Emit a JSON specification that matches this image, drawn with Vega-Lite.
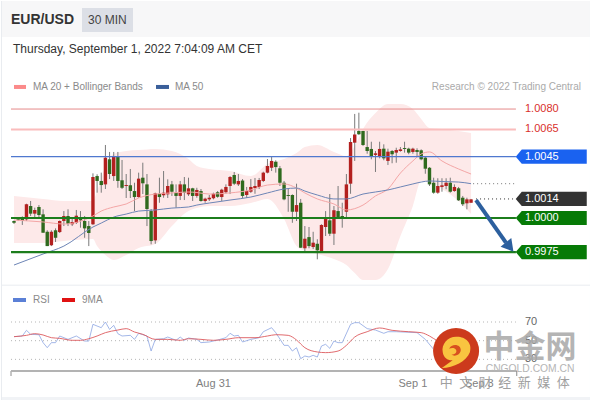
{"$schema":"https://vega.github.io/schema/vega-lite/v6.json","padding":0,"spacing":0,"bounds":"flush","background":"white","config":{"font":"Liberation Sans","view":{"stroke":null},"concat":{"spacing":0}},
"datasets":{
"levels":[{"price":1.008,"label":"1.0080"},{"price":1.0065,"label":"1.0065"},{"price":1.0045,"label":"1.0045"},{"price":1.0014,"label":"1.0014"},{"price":1.0,"label":"1.0000"},{"price":0.9975,"label":"0.9975"}],
"rsilevels":[{"rsi":70,"label":"70"},{"rsi":50,"label":"50"},{"rsi":30,"label":"30"}],
"bands":[{"t":0,"upper":1.00162,"lower":0.99816},{"t":7,"upper":1.0014,"lower":0.99816},{"t":12,"upper":1.00125,"lower":0.99831},{"t":19,"upper":1.00125,"lower":0.99846},{"t":20,"upper":1.00198,"lower":0.99794},{"t":21,"upper":1.00286,"lower":0.99758},{"t":22,"upper":1.00382,"lower":0.99728},{"t":24,"upper":1.0047,"lower":0.99692},{"t":27,"upper":1.00492,"lower":0.99728},{"t":30,"upper":1.00499,"lower":0.9978},{"t":34,"upper":1.00507,"lower":0.99809},{"t":38,"upper":1.00492,"lower":0.99941},{"t":42,"upper":1.00433,"lower":1.00051},{"t":44,"upper":1.00382,"lower":1.00073},{"t":47,"upper":1.0036,"lower":1.00088},{"t":52,"upper":1.00345,"lower":1.00088},{"t":57,"upper":1.00308,"lower":1.0011},{"t":61,"upper":1.00397,"lower":1.0014},{"t":65,"upper":1.00433,"lower":0.99993},{"t":68,"upper":1.00477,"lower":0.99794},{"t":70,"upper":1.00521,"lower":0.99758},{"t":73,"upper":1.00536,"lower":0.99736},{"t":77,"upper":1.00485,"lower":0.99699},{"t":80,"upper":1.00455,"lower":0.99655},{"t":82,"upper":1.00529,"lower":0.99596},{"t":84,"upper":1.00654,"lower":0.99545},{"t":87,"upper":1.00771,"lower":0.99545},{"t":90,"upper":1.00837,"lower":0.99626},{"t":93,"upper":1.00837,"lower":0.99868},{"t":96,"upper":1.008,"lower":1.00088},{"t":98,"upper":1.00727,"lower":1.00272},{"t":100,"upper":1.00661,"lower":1.00257},{"t":103,"upper":1.00654,"lower":1.00213},{"t":107,"upper":1.00639,"lower":1.00125},{"t":110,"upper":1.00624,"lower":1.00029}],
"mas":[{"t":0,"ma20":0.99985,"ma50":0.99655},{"t":7,"ma20":0.99971,"ma50":0.99736},{"t":12,"ma20":0.99956,"ma50":0.99794},{"t":19,"ma20":1.00015,"ma50":0.99934},{"t":21,"ma20":1.00051,"ma50":0.99963},{"t":24,"ma20":1.00081,"ma50":1.00007},{"t":27,"ma20":1.00103,"ma50":1.00029},{"t":30,"ma20":1.00147,"ma50":1.00051},{"t":34,"ma20":1.00176,"ma50":1.00059},{"t":38,"ma20":1.00184,"ma50":1.00073},{"t":42,"ma20":1.00191,"ma50":1.00081},{"t":44,"ma20":1.00187,"ma50":1.00095},{"t":47,"ma20":1.00176,"ma50":1.0011},{"t":52,"ma20":1.00184,"ma50":1.00132},{"t":57,"ma20":1.00206,"ma50":1.00154},{"t":61,"ma20":1.00242,"ma50":1.00184},{"t":65,"ma20":1.0025,"ma50":1.00213},{"t":68,"ma20":1.0022,"ma50":1.0022},{"t":70,"ma20":1.00184,"ma50":1.00198},{"t":73,"ma20":1.0014,"ma50":1.00169},{"t":77,"ma20":1.00103,"ma50":1.0014},{"t":80,"ma20":1.00059,"ma50":1.0014},{"t":84,"ma20":1.00095,"ma50":1.00176},{"t":87,"ma20":1.00162,"ma50":1.00191},{"t":90,"ma20":1.00213,"ma50":1.00206},{"t":93,"ma20":1.0033,"ma50":1.00228},{"t":96,"ma20":1.00419,"ma50":1.0025},{"t":98,"ma20":1.0047,"ma50":1.00264},{"t":100,"ma20":1.00485,"ma50":1.00272},{"t":103,"ma20":1.00419,"ma50":1.00268},{"t":107,"ma20":1.0036,"ma50":1.00264},{"t":110,"ma20":1.00323,"ma50":1.00252}],
"rsi":[{"t":0,"rsi":54.3},{"t":2,"rsi":55},{"t":3,"rsi":61.1},{"t":4,"rsi":56.8},{"t":6,"rsi":56.4},{"t":7,"rsi":47.9},{"t":8,"rsi":42.5},{"t":9,"rsi":47.9},{"t":10,"rsi":47.9},{"t":11,"rsi":55},{"t":13,"rsi":51.4},{"t":15,"rsi":55},{"t":17,"rsi":49.6},{"t":18,"rsi":49.6},{"t":19,"rsi":67.5},{"t":21,"rsi":63.9},{"t":22,"rsi":70},{"t":23,"rsi":62.1},{"t":24,"rsi":66.4},{"t":25,"rsi":57.5},{"t":26,"rsi":55},{"t":28,"rsi":55.7},{"t":29,"rsi":51.4},{"t":30,"rsi":57.9},{"t":32,"rsi":55},{"t":33,"rsi":38.9},{"t":34,"rsi":51.4},{"t":36,"rsi":52.1},{"t":37,"rsi":53.9},{"t":39,"rsi":50.4},{"t":40,"rsi":53.9},{"t":41,"rsi":50.4},{"t":42,"rsi":52.9},{"t":44,"rsi":51.4},{"t":45,"rsi":47.9},{"t":47,"rsi":48.6},{"t":49,"rsi":50.7},{"t":51,"rsi":53.2},{"t":52,"rsi":57.9},{"t":53,"rsi":55},{"t":54,"rsi":55.7},{"t":55,"rsi":48.6},{"t":57,"rsi":51.4},{"t":59,"rsi":53.2},{"t":60,"rsi":59.6},{"t":62,"rsi":63.9},{"t":63,"rsi":58.6},{"t":65,"rsi":45},{"t":66,"rsi":45},{"t":67,"rsi":38.9},{"t":68,"rsi":42.5},{"t":69,"rsi":30.7},{"t":70,"rsi":33.6},{"t":71,"rsi":32.5},{"t":72,"rsi":34.3},{"t":73,"rsi":32.5},{"t":74,"rsi":44.3},{"t":75,"rsi":46.1},{"t":76,"rsi":41.8},{"t":77,"rsi":49.6},{"t":78,"rsi":47.9},{"t":79,"rsi":47.9},{"t":81,"rsi":67.5},{"t":82,"rsi":69.3},{"t":83,"rsi":69.3},{"t":85,"rsi":62.9},{"t":87,"rsi":61.4},{"t":89,"rsi":57.9},{"t":90,"rsi":59.6},{"t":92,"rsi":59.6},{"t":97,"rsi":58.6},{"t":99,"rsi":51.4},{"t":101,"rsi":40.7},{"t":102,"rsi":37.9},{"t":105,"rsi":37.2},{"t":110,"rsi":35.4}],
"ma9":[{"t":0,"v":54.3},{"t":3,"v":55.7},{"t":5,"v":57.5},{"t":7,"v":56.1},{"t":9,"v":53.2},{"t":11,"v":52.5},{"t":14,"v":50.4},{"t":16,"v":50.4},{"t":18,"v":52.1},{"t":20,"v":55},{"t":22,"v":58.6},{"t":25,"v":61.4},{"t":27,"v":62.9},{"t":29,"v":59.3},{"t":31,"v":56.8},{"t":34,"v":51.4},{"t":37,"v":51.4},{"t":40,"v":50.4},{"t":42,"v":52.1},{"t":45,"v":51.4},{"t":48,"v":50.4},{"t":51,"v":51.4},{"t":54,"v":53.2},{"t":58,"v":53.2},{"t":61,"v":55},{"t":63,"v":56.4},{"t":66,"v":55.7},{"t":67,"v":53.9},{"t":68,"v":50.7},{"t":70,"v":42.5},{"t":73,"v":37.9},{"t":75,"v":37.2},{"t":78,"v":38.9},{"t":80,"v":45},{"t":82,"v":53.9},{"t":85,"v":59.6},{"t":88,"v":63.6},{"t":91,"v":61.1},{"t":95,"v":59.6},{"t":98,"v":58.6},{"t":100,"v":55},{"t":102,"v":49.6},{"t":110,"v":40.7}],
"candles":[
{"t":0,"o":0.99978,"c":0.99965,"h":0.99983,"l":0.99956},{"t":1,"o":1.00002,"c":0.99987,"h":1.00007,"l":0.99978},{"t":2,"o":1.00002,"c":0.99978,"h":1.00012,"l":0.99949},{"t":3,"o":0.9999,"c":1.00101,"h":1.00105,"l":0.99978},{"t":4,"o":1.00088,"c":1.00032,"h":1.00125,"l":1.00015},{"t":5,"o":1.00032,"c":1.00059,"h":1.00076,"l":0.99993},{"t":6,"o":1.00081,"c":1.00022,"h":1.00095,"l":0.99993},{"t":7,"o":1.00027,"c":0.99892,"h":1.00064,"l":0.99892},{"t":8,"o":0.99899,"c":0.99794,"h":0.9991,"l":0.99794},{"t":9,"o":0.998,"c":0.99899,"h":0.9991,"l":0.99794},
{"t":10,"o":0.9991,"c":0.99855,"h":0.99924,"l":0.99824},{"t":11,"o":0.99897,"c":0.99978,"h":0.99982,"l":0.9989},{"t":12,"o":0.99978,"c":1.00015,"h":1.00051,"l":0.99941},{"t":13,"o":1.00015,"c":0.99958,"h":1.00064,"l":0.99941},{"t":14,"o":0.99954,"c":0.99971,"h":1.00002,"l":0.99941},{"t":15,"o":0.99965,"c":1.00017,"h":1.00059,"l":0.99956},{"t":16,"o":1.00002,"c":0.99983,"h":1.00051,"l":0.99929},{"t":17,"o":0.99978,"c":0.99924,"h":1.00015,"l":0.99855},{"t":18,"o":0.99941,"c":0.9989,"h":0.99978,"l":0.99794},{"t":19,"o":0.99954,"c":1.00301,"h":1.00328,"l":0.99949},
{"t":20,"o":1.00308,"c":1.00272,"h":1.00321,"l":1.00186},{"t":21,"o":1.00272,"c":1.00242,"h":1.00333,"l":1.00186},{"t":22,"o":1.00247,"c":1.00443,"h":1.00536,"l":1.00213},{"t":23,"o":1.00431,"c":1.00323,"h":1.00485,"l":1.00286},{"t":24,"o":1.00308,"c":1.00455,"h":1.00485,"l":1.00272},{"t":25,"o":1.00455,"c":1.00272,"h":1.00485,"l":1.00222},{"t":26,"o":1.00277,"c":1.00222,"h":1.00426,"l":1.00213},{"t":27,"o":1.00235,"c":1.00242,"h":1.00323,"l":1.00147},{"t":28,"o":1.0024,"c":1.00198,"h":1.0036,"l":1.00147},{"t":29,"o":1.00198,"c":1.00154,"h":1.00259,"l":1.00051},
{"t":30,"o":1.00154,"c":1.00289,"h":1.00333,"l":1.00149},{"t":31,"o":1.00296,"c":1.00255,"h":1.00406,"l":1.00176},{"t":32,"o":1.00247,"c":1.00066,"h":1.00323,"l":0.99941},{"t":33,"o":1.00051,"c":0.99831,"h":1.00066,"l":0.99807},{"t":34,"o":0.99836,"c":1.00181,"h":1.00186,"l":0.99811},{"t":35,"o":1.00178,"c":1.00154,"h":1.00296,"l":1.00112},{"t":36,"o":1.00167,"c":1.00186,"h":1.00345,"l":1.00149},{"t":37,"o":1.00174,"c":1.00235,"h":1.00284,"l":1.00147},{"t":38,"o":1.00247,"c":1.00193,"h":1.00272,"l":1.00162},{"t":39,"o":1.00186,"c":1.00162,"h":1.00247,"l":1.00076},
{"t":40,"o":1.00162,"c":1.00247,"h":1.00272,"l":1.00132},{"t":41,"o":1.00247,"c":1.00186,"h":1.00301,"l":1.00132},{"t":42,"o":1.00174,"c":1.00218,"h":1.00296,"l":1.00162},{"t":43,"o":1.00218,"c":1.00162,"h":1.00222,"l":1.00125},{"t":44,"o":1.00162,"c":1.00206,"h":1.00222,"l":1.00149},{"t":45,"o":1.00198,"c":1.00125,"h":1.00213,"l":1.0012},{"t":46,"o":1.00125,"c":1.00142,"h":1.00149,"l":1.00112},{"t":47,"o":1.00137,"c":1.00149,"h":1.00169,"l":1.00125},{"t":48,"o":1.00145,"c":1.00178,"h":1.00186,"l":1.00137},{"t":49,"o":1.00189,"c":1.00156,"h":1.00198,"l":1.00149},
{"t":50,"o":1.00154,"c":1.00208,"h":1.00215,"l":1.00125},{"t":51,"o":1.00189,"c":1.00228,"h":1.00247,"l":1.00178},{"t":52,"o":1.00235,"c":1.00301,"h":1.00308,"l":1.00176},{"t":53,"o":1.00316,"c":1.00252,"h":1.00338,"l":1.00242},{"t":54,"o":1.00247,"c":1.00272,"h":1.00323,"l":1.00235},{"t":55,"o":1.00275,"c":1.00162,"h":1.00286,"l":1.00147},{"t":56,"o":1.00169,"c":1.00198,"h":1.00228,"l":1.00147},{"t":57,"o":1.00193,"c":1.00228,"h":1.00286,"l":1.00184},{"t":58,"o":1.0022,"c":1.00235,"h":1.00294,"l":1.00178},{"t":59,"o":1.00228,"c":1.00279,"h":1.00294,"l":1.00213},
{"t":60,"o":1.00272,"c":1.00333,"h":1.0034,"l":1.00264},{"t":61,"o":1.00333,"c":1.00382,"h":1.00433,"l":1.00328},{"t":62,"o":1.00369,"c":1.00419,"h":1.00448,"l":1.00345},{"t":63,"o":1.00413,"c":1.00374,"h":1.00424,"l":1.00333},{"t":64,"o":1.00365,"c":1.00259,"h":1.00382,"l":1.00235},{"t":65,"o":1.00259,"c":1.00137,"h":1.00272,"l":1.0013},{"t":66,"o":1.00169,"c":1.00162,"h":1.00215,"l":1.00046},{"t":67,"o":1.00169,"c":1.00046,"h":1.00174,"l":0.99965},{"t":68,"o":1.00046,"c":1.00095,"h":1.00252,"l":0.99978},{"t":69,"o":1.00112,"c":0.99782,"h":1.0014,"l":0.9978},
{"t":70,"o":0.99778,"c":0.99848,"h":0.99941,"l":0.99758},{"t":71,"o":0.9986,"c":0.99794,"h":0.99934,"l":0.99778},{"t":72,"o":0.99787,"c":0.99819,"h":0.99899,"l":0.99772},{"t":73,"o":0.99811,"c":0.99763,"h":0.99844,"l":0.99697},{"t":74,"o":0.99758,"c":0.99949,"h":0.99954,"l":0.99753},{"t":75,"o":0.99934,"c":0.99995,"h":1.00051,"l":0.99868},{"t":76,"o":0.99983,"c":0.99885,"h":1.00176,"l":0.99868},{"t":77,"o":0.99885,"c":1.00057,"h":1.00088,"l":0.99802},{"t":78,"o":1.00051,"c":1.00007,"h":1.00235,"l":1.0},{"t":79,"o":1.00015,"c":1.00002,"h":1.00112,"l":0.99929},
{"t":80,"o":1.00046,"c":1.00247,"h":1.00323,"l":1.00002},{"t":81,"o":1.00252,"c":1.00558,"h":1.00587,"l":1.00178},{"t":82,"o":1.00553,"c":1.00613,"h":1.00764,"l":1.00419},{"t":83,"o":1.00639,"c":1.00615,"h":1.00773,"l":1.00609},{"t":84,"o":1.00639,"c":1.00536,"h":1.00639,"l":1.00529},{"t":85,"o":1.00521,"c":1.00492,"h":1.00639,"l":1.00472},{"t":86,"o":1.00507,"c":1.00455,"h":1.0056,"l":1.00431},{"t":87,"o":1.00463,"c":1.00475,"h":1.00492,"l":1.00338},{"t":88,"o":1.00455,"c":1.00507,"h":1.0056,"l":1.00438},{"t":89,"o":1.00509,"c":1.00438,"h":1.00541,"l":1.00424},
{"t":90,"o":1.00419,"c":1.00487,"h":1.00509,"l":1.00389},{"t":91,"o":1.00492,"c":1.00468,"h":1.00499,"l":1.00402},{"t":92,"o":1.0048,"c":1.00499,"h":1.00516,"l":1.00406},{"t":93,"o":1.00492,"c":1.00504,"h":1.00521,"l":1.00487},{"t":94,"o":1.00514,"c":1.00507,"h":1.0056,"l":1.0048},{"t":95,"o":1.00509,"c":1.0048,"h":1.00516,"l":1.00468},{"t":96,"o":1.00485,"c":1.00509,"h":1.00516,"l":1.00472},{"t":97,"o":1.00499,"c":1.00485,"h":1.00512,"l":1.00455},{"t":98,"o":1.00497,"c":1.00431,"h":1.00504,"l":1.00424},{"t":99,"o":1.00443,"c":1.00362,"h":1.00455,"l":1.00325},
{"t":100,"o":1.00369,"c":1.00247,"h":1.00374,"l":1.00235},{"t":101,"o":1.00259,"c":1.00186,"h":1.00296,"l":1.00178},{"t":102,"o":1.00186,"c":1.00235,"h":1.00292,"l":1.00178},{"t":103,"o":1.00228,"c":1.0024,"h":1.00292,"l":1.00193},{"t":104,"o":1.00235,"c":1.00259,"h":1.00292,"l":1.00211},{"t":105,"o":1.00259,"c":1.00193,"h":1.00296,"l":1.00186},{"t":106,"o":1.00198,"c":1.00228,"h":1.00247,"l":1.00193},{"t":107,"o":1.00218,"c":1.0013,"h":1.00228,"l":1.00125},{"t":108,"o":1.00149,"c":1.00101,"h":1.00162,"l":1.00088},{"t":109,"o":1.00108,"c":1.00137,"h":1.00149,"l":1.00064},{"t":110,"o":1.00112,"c":1.00137,"h":1.0014,"l":1.00112}]
},
"vconcat":[
{"width":590,"height":285,"layer":[
{"data":{"values":[{"a":1}]},"mark":{"type":"rect","color":"#f7f7f8"},"encoding":{"x":{"datum":-3.13,"type":"quantitative","axis":null,"scale":{"domain":[-3.13,138.87],"nice":false,"zero":false,"padding":0}},"x2":{"datum":138.87},"y":{"datum":1.01593,"type":"quantitative","axis":null,"scale":{"domain":[0.99501,1.01593],"nice":false,"zero":false}},"y2":{"datum":1.01329}}},
{"data":{"values":[{"a":1}]},"mark":{"type":"rect","color":"#dcdfe6"},"encoding":{"x":{"datum":16.37,"type":"quantitative"},"x2":{"datum":28.64},"y":{"datum":1.01542,"type":"quantitative"},"y2":{"datum":1.01366}}},
{"data":{"values":[{"label":"EUR/USD"}]},"mark":{"type":"text","align":"left","baseline":"middle","fontSize":14,"fontWeight":"bold","color":"#333"},"encoding":{"text":{"field":"label"},"x":{"datum":-0.72,"type":"quantitative"},"y":{"datum":1.01454,"type":"quantitative"}}},
{"data":{"values":[{"label":"30 MIN"}]},"mark":{"type":"text","align":"left","baseline":"middle","fontSize":12,"color":"#444"},"encoding":{"text":{"field":"label"},"x":{"datum":17.81,"type":"quantitative"},"y":{"datum":1.01454,"type":"quantitative"}}},
{"data":{"values":[{"label":"Thursday, September 1, 2022 7:04:09 AM CET"}]},"mark":{"type":"text","align":"left","baseline":"middle","fontSize":12,"color":"#333"},"encoding":{"text":{"field":"label"},"x":{"datum":-0.24,"type":"quantitative"},"y":{"datum":1.01241,"type":"quantitative"}}},
{"data":{"values":[{"a":1}]},"mark":{"type":"rule","color":"#fb8a8a","strokeWidth":4},"encoding":{"x":{"datum":0,"type":"quantitative"},"x2":{"datum":2.89},"y":{"datum":1.00962,"type":"quantitative"}}},
{"data":{"values":[{"a":1}]},"mark":{"type":"rule","color":"#3a5f9a","strokeWidth":4},"encoding":{"x":{"datum":34.18,"type":"quantitative"},"x2":{"datum":37.3},"y":{"datum":1.00962,"type":"quantitative"}}},
{"data":{"values":[{"label":"MA 20 + Bollinger Bands"}]},"mark":{"type":"text","align":"left","baseline":"middle","fontSize":10,"color":"#8a8a8a"},"encoding":{"text":{"field":"label"},"x":{"datum":4.57,"type":"quantitative"},"y":{"datum":1.00962,"type":"quantitative"}}},
{"data":{"values":[{"label":"MA 50"}]},"mark":{"type":"text","align":"left","baseline":"middle","fontSize":10,"color":"#8a8a8a"},"encoding":{"text":{"field":"label"},"x":{"datum":38.75,"type":"quantitative"},"y":{"datum":1.00962,"type":"quantitative"}}},
{"data":{"values":[{"label":"Research © 2022 Trading Central"}]},"mark":{"type":"text","align":"right","baseline":"middle","fontSize":10,"color":"#aaaaaa"},"encoding":{"text":{"field":"label"},"x":{"datum":136.46,"type":"quantitative"},"y":{"datum":1.00962,"type":"quantitative"}}},
{"data":{"name":"bands"},"mark":{"type":"area","color":"#fde9e9","interpolate":"monotone"},"encoding":{"x":{"field":"t","type":"quantitative"},"y":{"field":"upper","type":"quantitative"},"y2":{"field":"lower"}}},
{"data":{"name":"candles"},"mark":{"type":"rule","color":"#7a7a7a","strokeWidth":1},"encoding":{"x":{"field":"t","type":"quantitative"},"y":{"field":"h","type":"quantitative"},"y2":{"field":"l"}}},
{"data":{"name":"candles"},"mark":{"type":"bar","width":3.4},"encoding":{"x":{"field":"t","type":"quantitative"},"y":{"field":"o","type":"quantitative"},"y2":{"field":"c"},"color":{"condition":{"test":"datum.c>datum.o","value":"#b3201f"},"value":"#2f6a1e"}}},
{"data":{"name":"mas"},"mark":{"type":"line","color":"#f4a6a6","strokeWidth":1,"interpolate":"monotone"},"encoding":{"x":{"field":"t","type":"quantitative"},"y":{"field":"ma20","type":"quantitative"}}},
{"data":{"name":"mas"},"mark":{"type":"line","color":"#6d85b6","strokeWidth":1,"interpolate":"monotone"},"encoding":{"x":{"field":"t","type":"quantitative"},"y":{"field":"ma50","type":"quantitative"}}},
{"data":{"name":"levels"},"transform":[{"filter":"datum.price==1.008"}],"mark":{"type":"rule","color":"#e58a8a","strokeWidth":1},"encoding":{"x":{"datum":-0.72,"type":"quantitative"},"x2":{"datum":120.8},"y":{"field":"price","type":"quantitative"}}},
{"data":{"name":"levels"},"transform":[{"filter":"datum.price==1.0065"}],"mark":{"type":"rule","color":"#fabcbc","strokeWidth":2},"encoding":{"x":{"datum":-0.72,"type":"quantitative"},"x2":{"datum":120.8},"y":{"field":"price","type":"quantitative"}}},
{"data":{"name":"levels"},"transform":[{"filter":"datum.price==1.0045"}],"mark":{"type":"rule","color":"#4f78cf","strokeWidth":1.3},"encoding":{"x":{"datum":-0.72,"type":"quantitative"},"x2":{"datum":120.8},"y":{"field":"price","type":"quantitative"}}},
{"data":{"name":"levels"},"transform":[{"filter":"datum.price==1.0||datum.price==0.9975"}],"mark":{"type":"rule","color":"#1c7d1c","strokeWidth":2.2},"encoding":{"x":{"datum":-0.72,"type":"quantitative"},"x2":{"datum":120.8},"y":{"field":"price","type":"quantitative"}}},
{"data":{"name":"levels"},"transform":[{"filter":"datum.price==1.0014"}],"mark":{"type":"rule","color":"#333333","strokeWidth":1,"strokeDash":[1,3]},"encoding":{"x":{"datum":111.2,"type":"quantitative"},"x2":{"datum":120.8},"y":{"field":"price","type":"quantitative"}}},
{"data":{"values":[{"a":1}]},"mark":{"type":"rule","color":"#777777","strokeWidth":1,"strokeDash":[1,3]},"encoding":{"x":{"datum":110.5,"type":"quantitative"},"x2":{"datum":120.8},"y":{"datum":1.00252,"type":"quantitative"}}},
{"data":{"values":[{"a":1}]},"mark":{"type":"rule","color":"#2c5f9e","strokeWidth":4},"encoding":{"x":{"datum":111.2,"type":"quantitative"},"x2":{"datum":118.4},"y":{"datum":1.00132,"type":"quantitative"},"y2":{"datum":0.9982}}},
{"data":{"values":[{"a":1}]},"mark":{"type":"point","shape":"triangle-up","filled":true,"opacity":1,"color":"#2c5f9e","size":190,"angle":141},"encoding":{"x":{"datum":119.3,"type":"quantitative"},"y":{"datum":0.99787,"type":"quantitative"}}},
{"data":{"name":"levels"},"transform":[{"filter":"datum.price<1.006"}],"mark":{"type":"point","shape":"M-1,0 L-0.83,-0.2 L1,-0.2 L1,0.2 L-0.83,0.2 Z","filled":true,"opacity":1,"size":5041},"encoding":{"x":{"datum":129.3,"type":"quantitative"},"y":{"field":"price","type":"quantitative"},"color":{"field":"label","type":"nominal","legend":null,"scale":{"domain":["1.0045","1.0014","1.0000","0.9975"],"range":["#1a62f0","#333333","#067a06","#067a06"]}}}},
{"data":{"name":"levels"},"transform":[{"filter":"datum.price>1.006"}],"mark":{"type":"text","align":"left","baseline":"middle","fontSize":11,"color":"#d9302c"},"encoding":{"text":{"field":"label"},"x":{"datum":122.98,"type":"quantitative"},"y":{"field":"price","type":"quantitative"}}},
{"data":{"name":"levels"},"transform":[{"filter":"datum.price<1.006"}],"mark":{"type":"text","align":"left","baseline":"middle","fontSize":11,"color":"white"},"encoding":{"text":{"field":"label"},"x":{"datum":122.98,"type":"quantitative"},"y":{"field":"price","type":"quantitative"}}},
{"data":{"values":[{"a":1}]},"mark":{"type":"rule","color":"#e9ecf0","strokeWidth":1},"encoding":{"x":{"datum":-3.13,"type":"quantitative"},"x2":{"datum":138.87},"y":{"datum":0.99507,"type":"quantitative"}}},
{"data":{"values":[{"a":1}]},"mark":{"type":"rule","color":"#e9ecf0","strokeWidth":1},"encoding":{"x":{"datum":-3.01,"type":"quantitative"},"y":{"datum":1.01593,"type":"quantitative"},"y2":{"datum":0.99501}}},
{"data":{"values":[{"a":1}]},"mark":{"type":"rule","color":"#e9ecf0","strokeWidth":1},"encoding":{"x":{"datum":138.74,"type":"quantitative"},"y":{"datum":1.01593,"type":"quantitative"},"y2":{"datum":0.99501}}}
]},
{"width":590,"height":115,"layer":[
{"data":{"values":[{"a":1}]},"mark":{"type":"rect","color":"#f1f3f6"},"encoding":{"x":{"datum":-3.13,"type":"quantitative","axis":null,"scale":{"domain":[-3.13,138.87],"nice":false,"zero":false}},"x2":{"datum":138.87},"y":{"datum":-10.3,"type":"quantitative","axis":null,"scale":{"domain":[-14.6,108.56],"nice":false,"zero":false}},"y2":{"datum":-14.6}}},
{"data":{"values":[{"a":1}]},"mark":{"type":"rule","color":"#e9ecf0","strokeWidth":1},"encoding":{"x":{"datum":-3.01,"type":"quantitative"},"y":{"datum":108.56,"type":"quantitative"},"y2":{"datum":-14.6}}},
{"data":{"values":[{"a":1}]},"mark":{"type":"rule","color":"#e9ecf0","strokeWidth":1},"encoding":{"x":{"datum":138.74,"type":"quantitative"},"y":{"datum":108.56,"type":"quantitative"},"y2":{"datum":-14.6}}},
{"data":{"values":[{"a":1}]},"mark":{"type":"rule","color":"#5b80d6","strokeWidth":4},"encoding":{"x":{"datum":-0.24,"type":"quantitative"},"x2":{"datum":2.89},"y":{"datum":93.56,"type":"quantitative"}}},
{"data":{"values":[{"a":1}]},"mark":{"type":"rule","color":"#e01212","strokeWidth":4},"encoding":{"x":{"datum":11.55,"type":"quantitative"},"x2":{"datum":14.68},"y":{"datum":93.56,"type":"quantitative"}}},
{"data":{"values":[{"label":"RSI"}]},"mark":{"type":"text","align":"left","baseline":"middle","fontSize":10,"color":"#8a8a8a"},"encoding":{"text":{"field":"label"},"x":{"datum":4.57,"type":"quantitative"},"y":{"datum":93.56,"type":"quantitative"}}},
{"data":{"values":[{"label":"9MA"}]},"mark":{"type":"text","align":"left","baseline":"middle","fontSize":10,"color":"#8a8a8a"},"encoding":{"text":{"field":"label"},"x":{"datum":16.37,"type":"quantitative"},"y":{"datum":93.56,"type":"quantitative"}}},
{"data":{"name":"rsilevels"},"mark":{"type":"rule","color":"#b5b5b5","strokeWidth":1,"strokeDash":[1,3]},"encoding":{"x":{"datum":-0.72,"type":"quantitative"},"x2":{"datum":120.8},"y":{"field":"rsi","type":"quantitative"}}},
{"data":{"name":"rsilevels"},"mark":{"type":"text","align":"left","baseline":"middle","fontSize":11,"color":"#666666"},"encoding":{"text":{"field":"label"},"x":{"datum":122.98,"type":"quantitative"},"y":{"field":"rsi","type":"quantitative"}}},
{"data":{"name":"rsi"},"mark":{"type":"line","color":"#8ba4e2","strokeWidth":0.8},"encoding":{"x":{"field":"t","type":"quantitative"},"y":{"field":"rsi","type":"quantitative"}}},
{"data":{"name":"ma9"},"mark":{"type":"line","color":"#dd5a5e","strokeWidth":0.9,"interpolate":"monotone"},"encoding":{"x":{"field":"t","type":"quantitative"},"y":{"field":"v","type":"quantitative"}}},
{"data":{"values":[{"a":1}]},"mark":{"type":"rule","color":"#b3b3b3","strokeWidth":2},"encoding":{"x":{"datum":-0.72,"type":"quantitative"},"x2":{"datum":121},"y":{"datum":17.5,"type":"quantitative"}}},
{"data":{"values":[{"a":1}]},"mark":{"type":"rule","color":"#b3b3b3","strokeWidth":1.5},"encoding":{"x":{"datum":-0.72,"type":"quantitative"},"y":{"datum":17.5,"type":"quantitative"},"y2":{"datum":12.2}}},
{"data":{"values":[{"a":1}]},"mark":{"type":"rule","color":"#888888","strokeWidth":1},"encoding":{"x":{"datum":121,"type":"quantitative"},"y":{"datum":17.5,"type":"quantitative"},"y2":{"datum":12.2}}},
{"data":{"values":[{"t":48,"label":"Aug 31"},{"t":96,"label":"Sep 1"},{"t":112,"label":"Sep 3"}]},"mark":{"type":"text","align":"center","baseline":"middle","fontSize":11,"color":"#808080"},"encoding":{"text":{"field":"label"},"x":{"field":"t","type":"quantitative"},"y":{"datum":3.6,"type":"quantitative"}}},
{"data":{"values":[{"a":1}]},"mark":{"type":"circle","color":"#cc3a1c","opacity":1,"size":2116},"encoding":{"x":{"datum":106.4,"type":"quantitative"},"y":{"datum":38.9,"type":"quantitative"}}},
{"data":{"values":[{"a":1}]},"mark":{"type":"point","shape":"M-0.62,0.74 C-0.1,0.72 0.45,0.45 0.6,0.05 C0.72,-0.35 0.4,-0.62 0.05,-0.62 C-0.35,-0.65 -0.65,-0.3 -0.58,0.05 C-0.54,0.3 -0.35,0.42 -0.15,0.4 Z","filled":true,"opacity":1,"color":"#f9c440","size":2116},"encoding":{"x":{"datum":106.4,"type":"quantitative"},"y":{"datum":38.9,"type":"quantitative"}}},
{"data":{"values":[{"a":1}]},"mark":{"type":"point","shape":"M-0.3,-0.1 C-0.2,-0.35 0.25,-0.3 0.2,0 C0.15,0.2 -0.1,0.25 -0.2,0.15 C-0.05,0.15 0.05,0.05 0,-0.05 C-0.05,-0.15 -0.2,-0.15 -0.3,-0.1 Z","filled":true,"opacity":1,"color":"#d8501f","size":2116},"encoding":{"x":{"datum":106.4,"type":"quantitative"},"y":{"datum":38.9,"type":"quantitative"}}},
{"data":{"values":[{"label":"中金网"}]},"mark":{"type":"text","align":"center","baseline":"middle","font":"Noto Sans CJK SC","fontSize":31,"fontWeight":"bold","color":"#a8a8a8","opacity":0.85},"encoding":{"text":{"field":"label"},"x":{"datum":124.2,"type":"quantitative"},"y":{"datum":42.2,"type":"quantitative"}}},
{"data":{"values":[{"label":"CNGOLD.COM.CN"}]},"mark":{"type":"text","align":"center","baseline":"middle","fontSize":10.3,"color":"#b5b5b5"},"encoding":{"text":{"field":"label"},"x":{"datum":124.2,"type":"quantitative"},"y":{"datum":19.7,"type":"quantitative"}}},
{"data":{"values":[{"label":"中\u2002文\u2002财\u2002经\u2002新\u2002媒\u2002体"}]},"mark":{"type":"text","align":"center","baseline":"middle","font":"Noto Sans CJK SC","fontSize":13,"color":"#a0a0a0"},"encoding":{"text":{"field":"label"},"x":{"datum":118.1,"type":"quantitative"},"y":{"datum":4.7,"type":"quantitative"}}}
]}
]}
